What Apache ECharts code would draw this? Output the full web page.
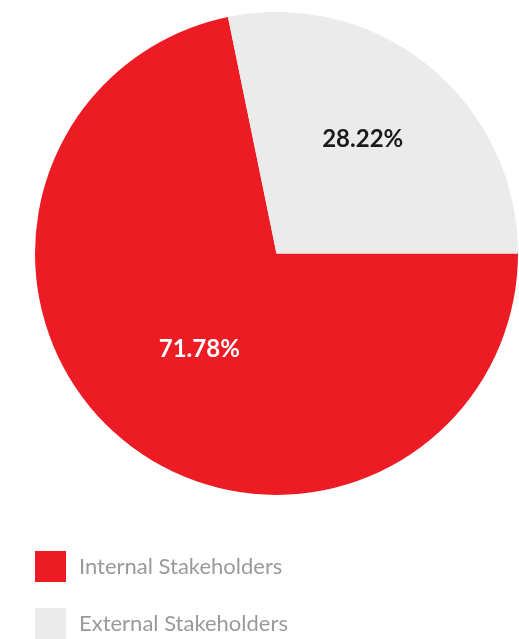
<!DOCTYPE html>
<html>
<head>
<meta charset="utf-8">
<script src="https://cdn.jsdelivr.net/npm/echarts@6/dist/echarts.min.js"></script>
<style>
  html, body { margin: 0; padding: 0; background: #ffffff; }
  #chart { width: 519px; height: 639px; }
</style>
</head>
<body>
<div id="chart"></div>
<script>
// Stakeholder split
const categories = ['Internal Stakeholders', 'External Stakeholders'];
const shares = [71.78, 28.22];
const sliceColors = ['#ED1C24', '#EBEBEB'];
const labelColors = ['#ffffff', '#1a1a1a'];

const chart = echarts.init(document.getElementById('chart'), null, { renderer: 'canvas' });

const pieData = categories.map((name, i) => ({
  name: name,
  value: shares[i],
  itemStyle: { color: sliceColors[i] },
  label: { color: labelColors[i] }
}));

// nudge each inside label a little along its slice
const labelShift = [[1, 0], [8, -18]];

chart.setOption({
  animation: false,
  backgroundColor: '#ffffff',
  legend: {
    orient: 'vertical',
    left: 35,
    top: 551,
    height: 140,
    padding: 0,
    itemWidth: 31,
    itemHeight: 31,
    itemGap: 26,
    icon: 'rect',
    data: categories,
    textStyle: {
      fontFamily: 'Lato, "Open Sans", sans-serif',
      fontSize: 22,
      color: '#9a9a9a',
      padding: [0, 0, 0, 8]
    }
  },
  series: [{
    type: 'pie',
    center: [276.5, 253.5],
    radius: 241.5,
    startAngle: 0,
    clockwise: true,
    silent: true,
    data: pieData,
    label: {
      show: true,
      position: 'inside',
      formatter: p => p.value.toFixed(2) + '%',
      fontFamily: 'Lato, "Open Sans", sans-serif',
      fontWeight: 'bold',
      fontSize: 24
    },
    labelLine: { show: false },
    labelLayout: function (params) {
      const s = labelShift[params.dataIndex];
      return { dx: s[0], dy: s[1] };
    }
  }]
});
</script>
</body>
</html>
